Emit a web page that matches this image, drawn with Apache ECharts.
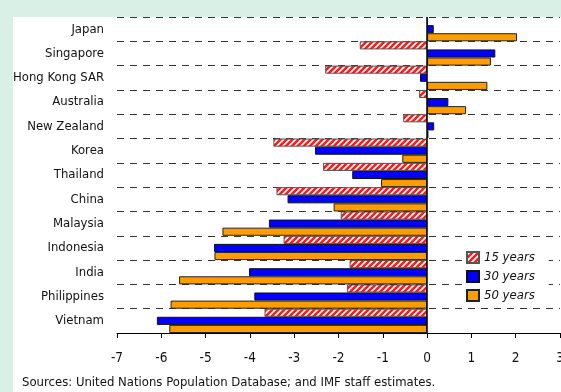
<!DOCTYPE html>
<html>
<head>
<meta charset="utf-8">
<script src="https://cdn.jsdelivr.net/npm/echarts@6/dist/echarts.min.js"></script>
<style>
html,body{margin:0;padding:0;background:#d8f0e6;}
#c{width:561px;height:392px;}
</style>
</head>
<body>
<div id="c"></div>
<script>
const categories = ['Japan','Singapore','Hong Kong SAR','Australia','New Zealand','Korea','Thailand','China','Malaysia','Indonesia','India','Philippines','Vietnam'];
const years15 = [0.02,-1.52,-2.30,-0.18,-0.54,-3.47,-2.35,-3.40,-1.95,-3.24,-1.75,-1.81,-3.67];
const years30 = [0.15,1.54,-0.16,0.48,0.16,-2.53,-1.69,-3.15,-3.57,-4.81,-4.02,-3.90,-6.10];
const years50 = [2.03,1.44,1.36,0.88,0.03,-0.56,-1.04,-2.11,-4.62,-4.80,-5.60,-5.79,-5.82];
const seriesNames = ['15 years','30 years','50 years'];
const xTicks = [-7,-6,-5,-4,-3,-2,-1,0,1,2,3];

const FONT = '"Liberation Sans Narrow","DejaVu Sans Condensed",sans-serif';

function hatch(){
  const c = document.createElement('canvas');
  c.width = 6; c.height = 6;
  const g = c.getContext('2d');
  g.fillStyle = '#ffffff'; g.fillRect(0,0,6,6);
  g.strokeStyle = '#ff1a1a'; g.lineWidth = 2.6;
  g.beginPath();
  g.moveTo(-1,7); g.lineTo(7,-1);
  g.moveTo(-1,1); g.lineTo(1,-1);
  g.moveTo(5,7); g.lineTo(7,5);
  g.stroke();
  return {image: c, repeat: 'repeat'};
}

const chart = echarts.init(document.getElementById('c'), null, {renderer:'canvas'});
chart.setOption({
  animation:false,
  backgroundColor:'#d8f0e6',
  graphic:[
    {type:'rect', z:-10, shape:{x:13,y:17,width:548,height:375}, style:{fill:'#ffffff'}},
    {type:'text', left:22, top:376, style:{text:'Sources: United Nations Population Database; and IMF staff estimates.', font:'13px '+FONT, fill:'#111'}}
  ],
  grid:{left:117, right:1, top:17, bottom:59, containLabel:false, outerBoundsMode:'none'},
  legend:{
    data:seriesNames, orient:'vertical', left:462, top:247,
    itemWidth:12, itemHeight:11, itemGap:6, icon:'rect',
    backgroundColor:'#ffffff', padding:[4,14,4,4],
    textStyle:{fontFamily:FONT, fontStyle:'italic', fontSize:13, color:'#111'}
  },
  xAxis:{
    type:'value', min:xTicks[0], max:xTicks[xTicks.length-1], interval:1,
    axisLine:{show:true, onZero:false, lineStyle:{color:'#000', width:1}},
    axisTick:{show:true, inside:false, length:5, lineStyle:{color:'#000'}},
    axisLabel:{fontFamily:FONT, fontSize:13.5, color:'#111', margin:18, showMaxLabel:true},
    splitLine:{show:false}
  },
  yAxis:{
    type:'category', data:categories, inverse:true,
    axisLine:{show:false, onZero:false},
    axisTick:{show:false},
    axisLabel:{fontFamily:FONT, fontSize:13, color:'#111', margin:13},
    splitLine:{show:true, lineStyle:{color:'#333', type:[7,6], width:1}}
  },
  series:[
    {name:seriesNames[0], type:'bar', data:years15, barGap:'0%', barCategoryGap:'0%',
     itemStyle:{color:hatch(), borderColor:'#555', borderWidth:1},
     markLine:{silent:true, symbol:'none', label:{show:false}, data:[{xAxis:0}],
       lineStyle:{color:'#000', type:'solid', width:1.5}}},
    {name:seriesNames[1], type:'bar', data:years30, barGap:'0%', barCategoryGap:'0%',
     itemStyle:{color:'#0000ff', borderColor:'#111', borderWidth:1}},
    {name:seriesNames[2], type:'bar', data:years50, barGap:'0%', barCategoryGap:'0%',
     itemStyle:{color:'#ff9c00', borderColor:'#222', borderWidth:1}}
  ]
});
</script>
</body>
</html>
